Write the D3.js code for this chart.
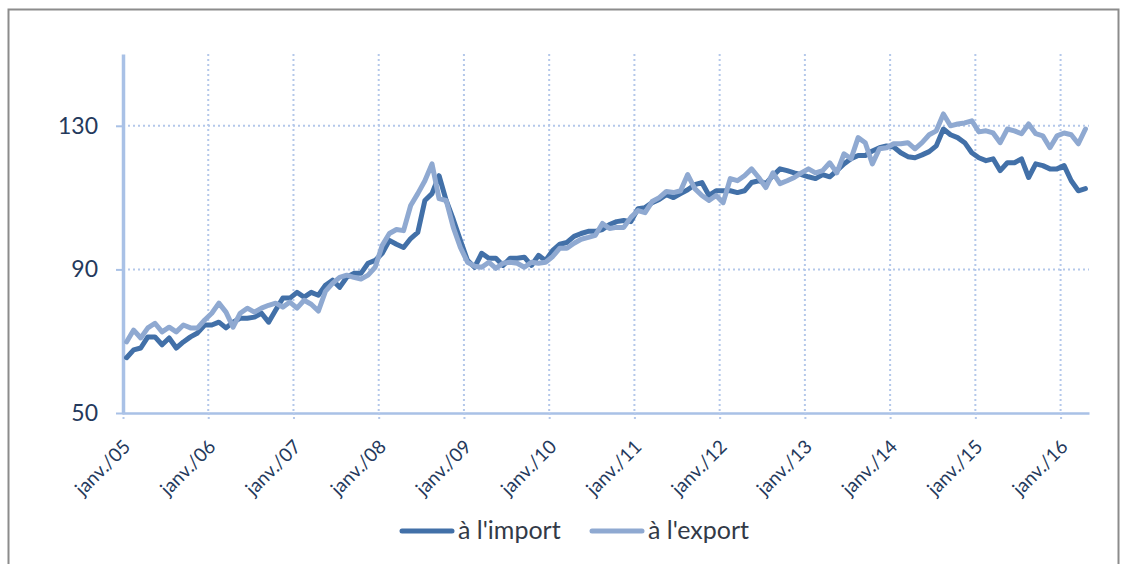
<!DOCTYPE html>
<html>
<head>
<meta charset="utf-8">
<script src="https://cdn.jsdelivr.net/npm/d3@7/dist/d3.min.js"></script>
<style>
    body { margin: 0; background: #fff; }
    svg { display: block; font-family: Lato, "Open Sans", sans-serif; }
</style>
</head>
<body>
<div id="chart"></div>
<script>
const WIDTH = 1127,
    HEIGHT = 564,
    PLOT = { LEFT: 123, RIGHT: 1089, TOP: 54, BOTTOM: 413 };

// one label per January, from 2005 to 2016
const YEAR_LABELS = ["janv./05", "janv./06", "janv./07", "janv./08", "janv./09", "janv./10",
    "janv./11", "janv./12", "janv./13", "janv./14", "janv./15", "janv./16"];
const Y_TICKS = [50, 90, 130];
const SERIES_NAMES = ["à l'import", "à l'export"];

// monthly index, janv. 2005 -> avr. 2016
const IMPORT = [
    65.4, 67.6, 68.1, 71.2, 71.2, 69.0, 70.9, 68.1, 69.8, 71.2, 72.3, 74.5,
    74.5, 75.3, 73.7, 75.3, 76.4, 76.4, 76.7, 77.8, 75.3, 78.7, 82.0, 82.0,
    83.6, 82.3, 83.6, 82.8, 85.6, 87.0, 85.0, 87.8, 88.9, 88.9, 91.7, 92.5,
    94.5, 98.1, 97.0, 96.1, 98.6, 100.3, 109.2, 111.1, 116.1, 109.2, 103.9, 98.1,
    92.5, 90.6, 94.5, 93.1, 93.1, 91.1, 93.1, 93.1, 93.4, 91.1, 93.9, 92.5,
    95.3, 97.0, 97.5, 99.2, 100.0, 100.6, 100.6, 101.1, 102.5, 103.3, 103.6, 103.3,
    106.9, 107.2, 108.6, 109.5, 110.8, 110.0, 111.1, 112.2, 113.6, 114.2, 110.6, 111.9,
    111.9, 111.9, 111.4, 111.9, 114.2, 114.7, 113.9, 116.1, 118.0, 117.5, 116.9, 116.4,
    115.8, 115.3, 116.4, 115.8, 117.5, 119.4, 120.8, 121.7, 121.7, 123.0, 123.9, 124.4,
    124.1, 122.5, 121.4, 121.1, 121.9, 122.8, 124.4, 129.1, 127.5, 126.7, 125.3, 122.5,
    121.1, 120.3, 120.8, 117.5, 119.7, 119.7, 120.8, 115.6, 119.4, 118.9, 118.0, 118.0,
    118.9, 114.7, 111.9, 112.5
];
const EXPORT = [
    69.8, 73.1, 70.9, 73.7, 75.0, 72.6, 73.9, 72.6, 74.5, 73.7, 73.7, 75.9,
    77.8, 80.6, 78.1, 73.9, 77.8, 79.2, 78.1, 79.2, 80.0, 80.6, 79.5, 80.9,
    79.2, 81.4, 80.3, 78.4, 83.9, 86.1, 87.8, 88.4, 87.8, 87.3, 88.4, 90.6,
    96.7, 100.0, 101.1, 100.8, 107.8, 111.1, 114.7, 119.4, 109.7, 109.2, 101.7, 96.1,
    92.0, 90.9, 90.6, 92.0, 90.3, 91.7, 92.0, 91.7, 90.6, 92.0, 91.7, 92.0,
    93.6, 95.9, 95.9, 97.3, 98.4, 98.9, 99.5, 102.8, 101.4, 101.7, 101.7, 104.5,
    106.4, 105.8, 108.9, 110.0, 111.7, 111.4, 111.9, 116.4, 112.5, 110.6, 109.2, 110.6,
    108.6, 115.3, 114.7, 116.1, 118.0, 115.6, 112.8, 116.9, 113.9, 114.7, 115.6, 116.9,
    118.0, 116.9, 117.5, 119.7, 116.9, 122.2, 120.8, 126.7, 125.3, 119.4, 123.6, 123.9,
    125.0, 125.0, 125.3, 123.6, 125.3, 127.5, 128.6, 133.3, 130.0, 130.5, 130.8, 131.4,
    128.3, 128.6, 128.0, 125.3, 129.1, 128.6, 127.8, 130.5, 127.8, 127.2, 123.9, 127.2,
    128.0, 127.5, 125.0, 129.1
];

const COLORS = ["#4270a8", "#8fa9d1"],
    GRID = "#b4c8ea",
    AXIS = "#a9c1e6",
    TEXT = "#24395c";

const svg = d3.select("#chart")
    .append("svg")
    .attr("width", WIDTH)
    .attr("height", HEIGHT);

// outer frame
svg.append("rect")
    .attr("x", 8.5)
    .attr("y", 9.5)
    .attr("width", 1110)
    .attr("height", 600)
    .attr("fill", "none")
    .attr("stroke", "#8c8c8c")
    .attr("stroke-width", 2);

// Scales
const xScale = d3.scaleLinear()
    .domain([0, IMPORT.length])
    .range([PLOT.LEFT, PLOT.RIGHT]);
const yScale = d3.scaleLinear()
    .domain([50, 150])
    .range([PLOT.BOTTOM, PLOT.TOP]);

const yearTicks = YEAR_LABELS.map((d, i) => i * 12);

// Gridlines
svg.append("g")
    .selectAll("line")
    .data(Y_TICKS.slice(1))
    .join("line")
    .attr("x1", PLOT.LEFT)
    .attr("x2", PLOT.RIGHT)
    .attr("y1", d => yScale(d))
    .attr("y2", d => yScale(d))
    .attr("stroke", GRID)
    .attr("stroke-width", 2)
    .attr("stroke-dasharray", "2,3");

svg.append("g")
    .selectAll("line")
    .data(yearTicks.slice(1))
    .join("line")
    .attr("x1", d => xScale(d))
    .attr("x2", d => xScale(d))
    .attr("y1", PLOT.TOP)
    .attr("y2", PLOT.BOTTOM)
    .attr("stroke", GRID)
    .attr("stroke-width", 2)
    .attr("stroke-dasharray", "2,3");

// Axes
const xAxis = svg.append("g")
    .attr("transform", `translate(0, ${PLOT.BOTTOM})`)
    .call(d3.axisBottom(xScale)
        .tickValues(yearTicks)
        .tickFormat((d, i) => YEAR_LABELS[i])
        .tickSize(7)
        .tickSizeOuter(0));
xAxis.select(".domain").attr("stroke", AXIS).attr("stroke-width", 2.5);
xAxis.selectAll(".tick line").attr("stroke", GRID).attr("stroke-width", 2).attr("stroke-dasharray", "2,2");
xAxis.selectAll(".tick text")
    .attr("x", 0)
    .attr("y", 0)
    .attr("dy", 0)
    .attr("transform", "translate(8, 35) rotate(-45)")
    .style("text-anchor", "end")
    .style("font-size", "19px")
    .style("font-family", "Lato, sans-serif")
    .attr("fill", TEXT);

const yAxis = svg.append("g")
    .attr("transform", `translate(${PLOT.LEFT}, 0)`)
    .call(d3.axisLeft(yScale)
        .tickValues(Y_TICKS)
        .tickSize(7)
        .tickPadding(18)
        .tickSizeOuter(0));
yAxis.select(".domain").attr("stroke", AXIS).attr("stroke-width", 3.5);
yAxis.selectAll(".tick line").attr("stroke", AXIS).attr("stroke-width", 2);
yAxis.selectAll(".tick text")
    .style("font-size", "23px")
    .style("font-family", "Lato, sans-serif")
    .attr("fill", TEXT);

// Lines
const line = d3.line()
    .x((d, i) => xScale(i + 0.5))
    .y(d => yScale(d));

svg.append("g")
    .selectAll("path")
    .data([IMPORT, EXPORT])
    .join("path")
    .attr("d", line)
    .attr("fill", "none")
    .attr("stroke", (d, i) => COLORS[i])
    .attr("stroke-width", 5)
    .attr("stroke-linejoin", "round")
    .attr("stroke-linecap", "round");

// Legend
const legend = svg.append("g")
    .selectAll("g")
    .data(SERIES_NAMES)
    .join("g")
    .attr("transform", (d, i) => `translate(${402 + i * 190}, 531)`);

legend.append("line")
    .attr("x1", 0)
    .attr("x2", 50)
    .attr("stroke", (d, i) => COLORS[i])
    .attr("stroke-width", 5)
    .attr("stroke-linecap", "round");

legend.append("text")
    .attr("x", 56)
    .attr("y", 8)
    .style("font-size", "25px")
    .attr("fill", "#333a47")
    .text(d => d);
</script>
</body>
</html>
